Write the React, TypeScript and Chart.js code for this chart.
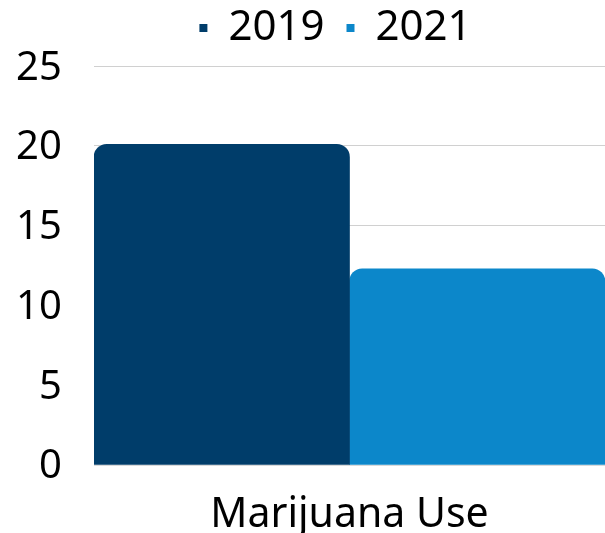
import React, { useEffect, useRef } from "react";
import { Chart, registerables } from "chart.js";

Chart.register(...registerables);

const categories = ["Marijuana Use"];
const series2019 = [20.1];
const series2021 = [12.3];
const seriesLabels = ["2019", "2021"];
const yTicks = [0, 5, 10, 15, 20, 25];

export default function App() {
  const ref = useRef<HTMLCanvasElement | null>(null);
  useEffect(() => {
    document.body.style.margin = "0";
    const ctx = ref.current!;
    const font = "'Noto Sans', 'Open Sans', sans-serif";
    const chart = new Chart(ctx, {
      type: "bar",
      data: {
        labels: categories,
        datasets: [
          {
            label: seriesLabels[0],
            data: series2019,
            backgroundColor: "#003d6a",
            borderRadius: 13,
            borderSkipped: "bottom",
            categoryPercentage: 1,
            barPercentage: 1,
          },
          {
            label: seriesLabels[1],
            data: series2021,
            backgroundColor: "#0c87ca",
            borderRadius: 13,
            borderSkipped: "bottom",
            categoryPercentage: 1,
            barPercentage: 1,
          },
        ],
      },
      options: {
        animation: false,
        responsive: false,
        maintainAspectRatio: false,
        layout: { padding: { left: 66, right: 0, top: -15, bottom: 0 } },
        plugins: {
          tooltip: { enabled: false },
          title: {
            display: true,
            text: "",
            weight: 500,
            font: { size: 1 },
            padding: { top: 0, bottom: 6 },
          },
          legend: {
            position: "top",
            labels: {
              boxWidth: 8,
              boxHeight: 8,
              padding: 22,
              color: "#000",
              font: { family: font, size: 42 },
            },
          },
        },
        scales: {
          x: {
            afterFit: (axis: any) => {
              axis.height = 68;
            },
            grid: { display: false },
            border: { display: true, color: "#d9d9d9" },
            ticks: { color: "#000", font: { family: font, size: 41 }, padding: 18 },
          },
          y: {
            min: 0,
            max: 25,
            afterBuildTicks: (axis: any) => {
              axis.ticks = yTicks.map((v) => ({ value: v }));
            },
            afterFit: (axis: any) => {
              axis.width = 28;
            },
            grid: { color: "#d0d0d0", drawTicks: false },
            border: { display: false },
            ticks: {
              color: "#000",
              font: { family: font, size: 40 },
              mirror: true,
              crossAlign: "far",
              padding: -78,
              labelOffset: 2,
            },
          },
        },
      },
    });
    return () => chart.destroy();
  }, []);
  return (
    <div style={{ width: 605, height: 533 }}>
      <canvas ref={ref} width={605} height={533} />
    </div>
  );
}
